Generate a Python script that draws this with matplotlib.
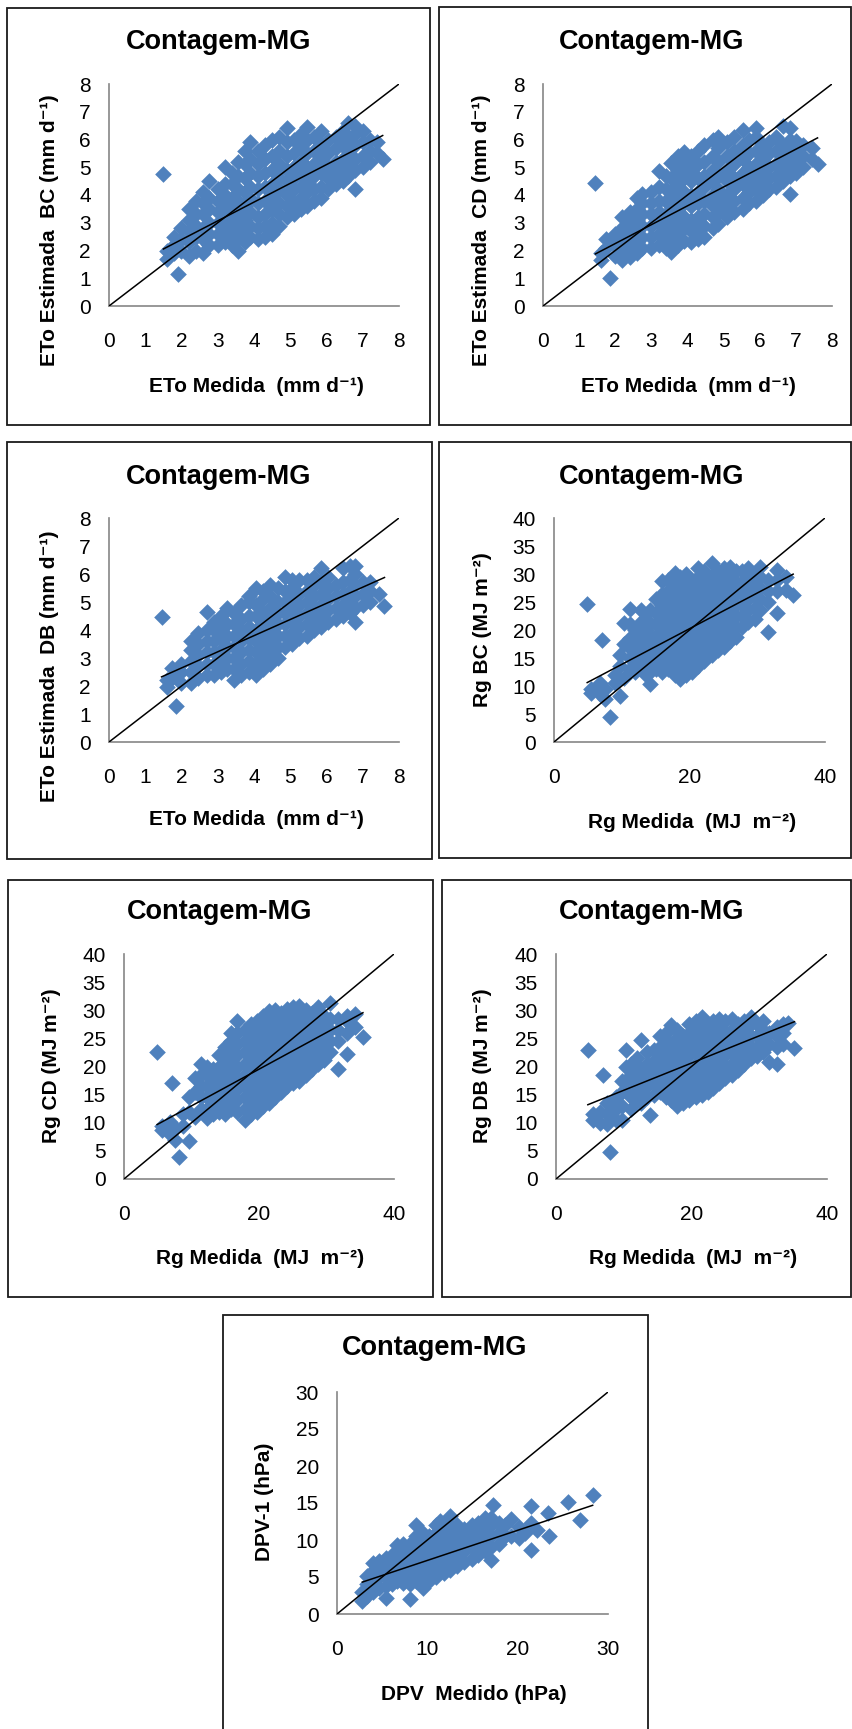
import matplotlib
matplotlib.use("Agg")
import matplotlib.pyplot as plt
from matplotlib.patches import Rectangle
import numpy as np

plt.rcParams['font.family'] = ['Liberation Sans', 'DejaVu Sans']

W, H = 853, 1729
BLUE = '#4F81BD'

# ---- data: one x per column, with the y values read in that column ----
eto_bc_x = [1.5, 1.6, 1.8, 1.9, 2.0, 2.2, 2.4, 2.6, 2.75, 3.0, 3.2, 3.4, 3.55, 3.75,
            3.9, 4.1, 4.3, 4.5, 4.7, 4.9, 5.1, 5.3, 5.45, 5.65, 5.85, 6.05, 6.25,
            6.45, 6.6, 6.8, 7.0, 7.2, 7.4, 7.55]
eto_bc_y = [[4.75], [1.7, 2.0], [2.5, 2.2, 1.9], [1.15], [2.0, 2.4, 2.8],
            [1.8, 2.3, 2.7, 3.1, 3.5], [2.0, 2.5, 2.9, 3.3, 3.8],
            [1.9, 2.4, 2.8, 3.3, 3.7, 4.1], [2.2, 2.6, 3.0, 3.5, 3.9, 4.5],
            [2.2, 2.6, 3.0, 3.4, 3.8, 4.2], [2.3, 2.8, 3.2, 3.6, 4.0, 4.4, 5.0],
            [2.2, 2.6, 3.0, 3.5, 3.9, 4.4, 4.8], [2.0, 2.5, 2.9, 3.3, 3.8, 4.2, 4.7, 5.2],
            [2.3, 2.7, 3.1, 3.6, 4.1, 4.6, 5.1, 5.6], [2.5, 2.9, 3.4, 3.9, 4.3, 4.8, 5.3, 5.9],
            [2.4, 2.8, 3.2, 3.7, 4.2, 4.7, 5.1, 5.6], [2.5, 2.9, 3.3, 3.8, 4.3, 4.8, 5.3, 5.8],
            [2.6, 3.0, 3.5, 4.0, 4.4, 4.9, 5.4, 6.0], [2.9, 3.3, 3.7, 4.2, 4.6, 5.1, 5.6, 6.1],
            [3.2, 3.6, 4.0, 4.5, 4.9, 5.4, 5.9, 6.4], [3.3, 3.7, 4.2, 4.6, 5.0, 5.5, 6.0],
            [3.5, 3.9, 4.3, 4.8, 5.2, 5.7, 6.2], [3.6, 4.1, 4.5, 5.0, 5.5, 6.0, 6.45],
            [3.8, 4.2, 4.7, 5.1, 5.6, 6.1], [3.9, 4.3, 4.8, 5.3, 5.8, 6.3],
            [4.2, 4.6, 5.0, 5.5, 6.0], [4.4, 4.8, 5.2, 5.7, 6.1], [4.5, 4.9, 5.3, 5.8, 6.3],
            [4.7, 5.1, 5.6, 6.0, 6.6], [4.2, 4.9, 5.3, 5.8, 6.2, 6.5], [5.0, 5.4, 5.9, 6.3],
            [5.2, 5.6, 6.0], [5.5, 5.9], [5.3]]

eto_cd_x = [1.45, 1.6, 1.75, 1.85, 2.0, 2.2, 2.4, 2.6, 2.75, 3.0, 3.2, 3.4, 3.55, 3.75,
            3.9, 4.1, 4.3, 4.45, 4.7, 4.85, 5.1, 5.3, 5.55, 5.7, 5.9, 6.1, 6.25,
            6.45, 6.65, 6.85, 7.0, 7.2, 7.45, 7.6]
eto_cd_y = [[4.45], [1.65, 1.9], [2.4, 2.1], [1.0], [1.8, 2.2, 2.6],
            [1.65, 2.0, 2.4, 2.8, 3.2], [1.75, 2.2, 2.6, 3.0, 3.4],
            [1.9, 2.3, 2.7, 3.1, 3.5, 3.9], [2.1, 2.5, 2.9, 3.3, 3.7, 4.05],
            [2.1, 2.5, 2.9, 3.3, 3.7, 4.1], [2.2, 2.6, 3.0, 3.4, 3.8, 4.3, 4.85],
            [2.1, 2.5, 2.9, 3.3, 3.8, 4.2, 4.7], [1.95, 2.4, 2.8, 3.2, 3.6, 4.1, 4.6, 5.15],
            [2.2, 2.6, 3.0, 3.5, 3.9, 4.4, 4.9, 5.4], [2.35, 2.8, 3.2, 3.7, 4.1, 4.6, 5.1, 5.55],
            [2.3, 2.7, 3.1, 3.6, 4.0, 4.5, 4.9, 5.4], [2.4, 2.8, 3.2, 3.7, 4.1, 4.6, 5.1, 5.6],
            [2.5, 2.9, 3.3, 3.8, 4.3, 4.7, 5.2, 5.8], [2.8, 3.2, 3.6, 4.0, 4.5, 4.9, 5.4, 6.0],
            [2.95, 3.4, 3.8, 4.2, 4.7, 5.2, 5.7, 6.1], [3.2, 3.6, 4.0, 4.5, 4.9, 5.4, 5.9],
            [3.4, 3.8, 4.2, 4.6, 5.1, 5.6, 6.1], [3.5, 3.9, 4.4, 4.8, 5.3, 5.8, 6.35],
            [3.7, 4.1, 4.5, 5.0, 5.5, 6.0], [3.8, 4.2, 4.7, 5.1, 5.6, 6.1, 6.4],
            [4.0, 4.4, 4.9, 5.3, 5.8], [4.2, 4.6, 5.0, 5.5, 5.9], [4.3, 4.7, 5.1, 5.6, 6.1],
            [4.5, 4.9, 5.4, 5.8, 6.5], [4.05, 4.7, 5.1, 5.5, 6.0, 6.4], [4.8, 5.3, 5.7, 5.95],
            [5.0, 5.4, 5.8], [5.3, 5.7], [5.1]]

eto_db_x = [1.45, 1.6, 1.75, 1.85, 2.0, 2.25, 2.45, 2.7, 2.9, 3.1, 3.25, 3.45, 3.65,
            3.85, 4.05, 4.25, 4.45, 4.65, 4.85, 5.05, 5.25, 5.45, 5.65, 5.85, 6.05,
            6.25, 6.45, 6.65, 6.8, 7.0, 7.2, 7.45, 7.6]
eto_db_y = [[4.45], [1.95, 2.2], [2.65, 2.3], [1.3], [2.1, 2.5, 2.8],
            [2.1, 2.5, 2.9, 3.3, 3.6], [2.3, 2.7, 3.1, 3.5, 3.9],
            [2.4, 2.8, 3.2, 3.6, 4.0, 4.65], [2.4, 2.8, 3.2, 3.6, 4.0, 4.3],
            [2.5, 2.9, 3.3, 3.7, 4.1, 4.5], [2.6, 3.0, 3.4, 3.8, 4.2, 4.8],
            [2.2, 2.6, 3.0, 3.4, 3.8, 4.2, 4.6], [2.4, 2.8, 3.2, 3.6, 4.0, 4.4, 4.9],
            [2.5, 2.9, 3.3, 3.7, 4.1, 4.5, 5.0, 5.2], [2.4, 2.8, 3.2, 3.6, 4.0, 4.5, 4.9, 5.5],
            [2.6, 3.0, 3.4, 3.8, 4.2, 4.6, 5.1, 5.4], [2.8, 3.2, 3.6, 4.0, 4.4, 4.8, 5.2, 5.6],
            [3.0, 3.4, 3.8, 4.2, 4.6, 5.0, 5.5], [3.4, 3.8, 4.2, 4.6, 5.0, 5.4, 5.9],
            [3.5, 3.9, 4.3, 4.7, 5.1, 5.5, 5.8], [3.7, 4.1, 4.5, 4.9, 5.3, 5.8],
            [3.8, 4.2, 4.6, 5.0, 5.4, 5.8], [4.0, 4.4, 4.8, 5.2, 5.6, 5.9],
            [4.1, 4.5, 4.9, 5.3, 5.7, 6.2], [4.3, 4.7, 5.1, 5.5, 5.9], [4.4, 4.8, 5.2, 5.6],
            [4.5, 4.9, 5.3, 5.7, 6.2], [4.6, 5.0, 5.4, 5.8, 6.3], [4.3, 4.8, 5.2, 5.6, 6.0, 6.3],
            [4.9, 5.3, 5.7], [5.0, 5.4, 5.7], [5.3], [4.85]]

rg_bc_x = [4.9, 5.5, 6.8, 7.1, 7.6, 8.2, 9.0, 9.7, 10.4, 11.2, 12.0, 12.8, 13.6, 14.2,
           15.0, 15.9, 16.8, 17.8, 18.6, 19.5, 20.4, 21.3, 22.2, 23.3, 24.2, 25.1, 26.0,
           26.9, 27.8, 28.7, 29.6, 30.4, 31.6, 32.9, 34.3, 35.3]
rg_bc_y = [[24.7], [8.7, 9.5], [8.5, 10.5], [18.2], [7.6, 9.5], [4.4], [10.5, 12.0],
           [8.2, 13.5, 15.5], [11.5, 17.5, 21.3], [13.0, 15.0, 16.8, 18.5, 21.0, 23.8],
           [12.5, 14.5, 16.5, 18.5, 20.0], [13.5, 15.5, 17.5, 19.5, 21.5, 23.6],
           [12.0, 14.0, 16.0, 18.0, 20.0, 22.0], [10.3, 12.5, 15.0, 17.0, 19.0, 21.0, 23.5],
           [13.0, 15.0, 17.0, 19.0, 21.0, 23.0, 25.5],
           [12.5, 14.5, 16.5, 18.5, 20.5, 22.5, 24.5, 26.5, 28.7],
           [13.0, 15.0, 17.0, 19.0, 21.0, 23.0, 25.0, 27.0, 29.0],
           [12.0, 14.0, 16.0, 18.0, 20.0, 22.0, 24.0, 26.0, 28.0, 30.1],
           [11.3, 13.5, 15.5, 17.5, 19.5, 21.5, 23.5, 25.5, 27.5, 29.5],
           [12.0, 14.0, 16.0, 18.0, 20.0, 22.0, 24.0, 26.0, 28.0, 30.0],
           [12.5, 14.5, 16.5, 18.5, 20.5, 22.5, 24.5, 26.5, 28.5],
           [13.5, 15.5, 17.5, 19.5, 21.5, 23.5, 25.5, 27.5, 29.5, 31.0],
           [14.5, 16.5, 18.5, 20.5, 22.5, 24.5, 26.5, 28.5, 30.5],
           [15.5, 17.5, 19.5, 21.5, 23.5, 25.5, 27.5, 29.5, 31.9],
           [16.5, 18.5, 20.5, 22.5, 24.5, 26.5, 28.5, 30.5],
           [17.0, 19.0, 21.0, 23.0, 25.0, 27.0, 29.0, 31.0],
           [18.0, 20.0, 22.0, 24.0, 26.0, 28.0, 30.0, 31.3],
           [18.8, 20.5, 22.5, 24.5, 26.5, 28.5, 30.5], [20.5, 22.5, 24.5, 26.5, 28.5, 30.5],
           [21.5, 23.5, 25.5, 27.5, 29.5, 31.0], [22.0, 24.0, 26.0, 28.0, 30.0],
           [23.5, 25.5, 27.5, 29.5, 31.3], [19.7, 25.0, 27.0, 29.0], [23.0, 27.0, 29.0, 30.7],
           [27.2, 29.5], [26.3]]

rg_cd_x = [4.9, 5.6, 6.8, 7.1, 7.6, 8.2, 8.8, 9.7, 10.5, 11.4, 12.3, 13.2, 14.1, 15.0,
           15.9, 16.8, 17.9, 18.8, 19.7, 20.6, 21.5, 22.4, 23.3, 24.2, 25.1, 26.0, 26.9,
           27.8, 28.7, 29.6, 30.5, 31.7, 33.0, 34.2, 35.4]
rg_cd_y = [[22.6], [8.7, 9.5], [8.0, 10.2], [17.0], [7.0, 9.0], [3.9], [9.5, 11.5],
           [6.7, 12.0, 14.5], [11.0, 15.5, 18.0], [12.5, 14.5, 16.5, 18.5, 20.5],
           [10.8, 12.5, 14.5, 16.5, 18.5, 20.0], [11.5, 13.5, 15.5, 17.5, 19.5],
           [12.0, 14.0, 16.0, 18.0, 20.0, 22.0], [11.5, 13.5, 15.5, 17.5, 19.5, 21.5, 23.5],
           [12.5, 14.5, 16.5, 18.5, 20.5, 22.5, 24.5, 26.0],
           [12.0, 14.0, 16.0, 18.0, 20.0, 22.0, 24.0, 26.0, 28.1],
           [10.5, 12.5, 14.5, 16.5, 18.5, 20.5, 22.5, 24.5, 26.5],
           [11.5, 13.5, 15.5, 17.5, 19.5, 21.5, 23.5, 25.5, 27.5],
           [12.0, 14.0, 16.0, 18.0, 20.0, 22.0, 24.0, 26.0, 28.0],
           [13.0, 15.0, 17.0, 19.0, 21.0, 23.0, 25.0, 27.0, 29.0],
           [13.5, 15.5, 17.5, 19.5, 21.5, 23.5, 25.5, 27.5, 29.8],
           [14.5, 16.5, 18.5, 20.5, 22.5, 24.5, 26.5, 28.5, 30.0],
           [15.5, 17.5, 19.5, 21.5, 23.5, 25.5, 27.5, 29.5],
           [16.5, 18.5, 20.5, 22.5, 24.5, 26.5, 28.5, 30.2],
           [17.0, 19.0, 21.0, 23.0, 25.0, 27.0, 29.0, 30.5],
           [17.5, 19.5, 21.5, 23.5, 25.5, 27.5, 29.5, 30.7],
           [18.5, 20.5, 22.5, 24.5, 26.5, 28.5, 30.0], [19.5, 21.5, 23.5, 25.5, 27.5, 29.5],
           [20.5, 22.5, 24.5, 26.5, 28.5, 30.5], [21.2, 23.0, 25.0, 27.0, 29.0],
           [22.5, 24.5, 26.5, 28.5, 31.2], [19.5, 24.5, 26.5, 28.5], [22.3, 26.0, 28.0, 29.0],
           [27.0, 29.4], [25.3]]

rg_db_x = [4.7, 5.5, 6.5, 6.9, 7.6, 8.0, 8.8, 9.8, 10.3, 11.0, 11.9, 12.6, 13.5, 13.9,
           14.4, 15.3, 16.2, 17.0, 17.9, 18.8, 19.7, 20.6, 21.5, 22.4, 23.2, 24.1, 25.0,
           26.0, 26.9, 27.8, 28.8, 29.6, 30.5, 31.5, 32.6, 33.5, 34.2, 35.2]
rg_db_y = [[22.9], [10.5, 11.5], [10.0, 12.0], [18.5], [9.8, 11.5, 13.5], [4.8],
           [10.5, 12.5, 14.5], [10.5, 13.0, 15.5, 17.5], [20.0, 22.9],
           [12.5, 14.5, 16.5, 18.5, 20.5], [14.0, 16.0, 18.0, 20.0, 21.5],
           [13.5, 15.5, 17.5, 19.5, 24.7], [14.5, 16.5, 18.5, 20.5, 22.5], [11.3],
           [15.0, 17.0, 19.0, 21.0, 23.0], [15.5, 17.5, 19.5, 21.5, 23.5, 25.5],
           [14.5, 16.5, 18.5, 20.5, 22.5, 24.5, 26.0], [14.0, 16.0, 18.0, 20.0, 22.0, 24.0, 27.3],
           [13.0, 15.0, 17.0, 19.0, 21.0, 23.0, 25.0, 26.5],
           [13.5, 15.5, 17.5, 19.5, 21.5, 23.5, 25.5],
           [14.0, 16.0, 18.0, 20.0, 22.0, 24.0, 26.0, 27.5],
           [14.5, 16.5, 18.5, 20.5, 22.5, 24.5, 26.5, 28.0],
           [15.0, 17.0, 19.0, 21.0, 23.0, 25.0, 27.0, 28.8],
           [15.5, 17.5, 19.5, 21.5, 23.5, 25.5, 27.5],
           [16.1, 18.0, 20.0, 22.0, 24.0, 26.0, 28.0], [17.0, 19.0, 21.0, 23.0, 25.0, 27.0, 28.5],
           [18.0, 20.0, 22.0, 24.0, 26.0, 28.0], [18.5, 20.5, 22.5, 24.5, 26.5, 28.4],
           [19.4, 21.5, 23.5, 25.5, 27.5], [20.5, 22.5, 24.5, 26.5, 28.0],
           [21.5, 23.5, 25.5, 27.5, 28.8], [21.8, 23.5, 25.5, 27.5], [22.5, 24.5, 26.5, 28.0],
           [20.8, 24.0, 26.0], [20.5, 23.5, 25.5, 27.0], [24.0, 26.0, 27.5], [27.8], [23.3]]

dpv_x = [2.8, 3.3, 4.0, 4.7, 5.4, 6.1, 6.6, 7.3, 8.1, 8.8, 9.5, 10.2, 11.0, 11.4, 11.8,
         12.5, 13.3, 14.1, 14.9, 15.6, 16.4, 17.1, 17.3, 17.9, 18.6, 19.3, 20.1, 20.8,
         21.5, 22.1, 23.4, 23.5, 25.6, 26.9, 28.3]
dpv_y = [[1.7, 3.0], [2.4, 4.0, 5.2], [3.0, 4.5, 5.8, 6.9], [3.5, 5.0, 6.3, 7.2],
         [2.2, 3.8, 5.2, 6.5, 7.6], [4.0, 5.5, 6.8, 8.0], [4.5, 6.0, 7.5, 9.3],
         [4.2, 5.5, 7.0, 8.5, 9.5], [2.0, 4.0, 5.3, 6.5, 8.0, 9.5],
         [4.5, 6.0, 7.5, 9.0, 10.5, 12.0], [3.5, 5.0, 6.5, 8.0, 9.5, 11.0],
         [4.5, 6.0, 7.5, 9.0, 10.5], [5.0, 6.5, 8.0, 9.5, 11.0, 12.0], [12.6],
         [5.5, 7.0, 8.5, 10.0, 11.5], [6.0, 7.5, 9.0, 10.5, 12.0, 13.2],
         [6.5, 8.0, 9.5, 11.0, 12.0], [7.0, 8.5, 10.0, 11.5], [7.5, 9.0, 10.5, 12.0],
         [8.0, 9.5, 11.0, 12.3], [8.5, 10.0, 11.5, 13.0], [7.3, 9.0, 10.5, 12.0, 13.0],
         [14.7], [9.5, 11.0, 12.3], [10.5, 12.0], [10.5, 12.9], [10.3, 11.8], [11.0],
         [8.6, 12.3, 14.6], [11.4], [13.6], [10.5], [15.2], [12.7], [16.1]]

# linear trend lines (intercept, slope)
trend_eto_bc = (1.04, 0.676)
trend_eto_cd = (0.89, 0.68)
trend_eto_db = (1.49, 0.577)
trend_rg_bc = (7.49, 0.637)
trend_rg_cd = (6.48, 0.652)
trend_rg_db = (10.93, 0.484)
trend_dpv = (3.17, 0.407)

titles = ['Contagem-MG'] * 7
ylabels = ['ETo Estimada  BC (mm d⁻¹)',
           'ETo Estimada  CD (mm d⁻¹)',
           'ETo Estimada  DB (mm d⁻¹)',
           'Rg BC (MJ m⁻²)',
           'Rg CD (MJ m⁻²)',
           'Rg DB (MJ m⁻²)',
           'DPV-1 (hPa)']
xlabels = ['ETo Medida  (mm d⁻¹)'] * 3 + ['Rg Medida  (MJ  m⁻²)'] * 3 + ['DPV  Medido (hPa)']

eto_ticks = [0, 1, 2, 3, 4, 5, 6, 7, 8]
rg_xticks = [0, 20, 40]
rg_yticks = [0, 5, 10, 15, 20, 25, 30, 35, 40]
dpv_xticks = [0, 10, 20, 30]
dpv_yticks = [0, 5, 10, 15, 20, 25, 30]

panels = [
    (eto_bc_x, eto_bc_y, trend_eto_bc, 8, eto_ticks, eto_ticks),
    (eto_cd_x, eto_cd_y, trend_eto_cd, 8, eto_ticks, eto_ticks),
    (eto_db_x, eto_db_y, trend_eto_db, 8, eto_ticks, eto_ticks),
    (rg_bc_x, rg_bc_y, trend_rg_bc, 40, rg_xticks, rg_yticks),
    (rg_cd_x, rg_cd_y, trend_rg_cd, 40, rg_xticks, rg_yticks),
    (rg_db_x, rg_db_y, trend_rg_db, 40, rg_xticks, rg_yticks),
    (dpv_x, dpv_y, trend_dpv, 30, dpv_xticks, dpv_yticks),
]

# layout in pixels: frame box, plot area, title centre, y label centre, x label centre
boxes = [(7, 8, 430, 425), (439, 7, 851, 425), (7, 442, 432, 859), (439, 442, 851, 858),
         (8, 880, 433, 1297), (442, 880, 851, 1297), (223, 1315, 648, 1740)]
plot_areas = [(109, 84, 399, 306), (543, 84, 832, 306), (109, 518, 399, 742),
              (554, 518, 825, 742), (124, 954, 394, 1179), (556, 954, 827, 1179),
              (337, 1392, 608, 1614)]
title_pos = [(219, 42), (652, 42), (219, 477), (652, 477), (220, 912), (652, 912), (435, 1348)]
ylab_pos = [(50, 230), (482, 230), (50, 666), (483, 630), (52, 1066), (483, 1066), (265, 1502)]
xlab_pos = [(256, 387), (688, 387), (256, 820), (692, 822), (260, 1258), (693, 1258), (474, 1695)]


def fx(px):
    return px / W


def fy(py):
    return 1 - py / H


fig = plt.figure(figsize=(W / 100, H / 100), dpi=100)

for i, (xs, ys, trend, vmax, xt, yt) in enumerate(panels):
    bx0, by0, bx1, by1 = boxes[i]
    fig.add_artist(Rectangle((fx(bx0), fy(by1)), fx(bx1 - bx0), (by1 - by0) / H,
                             transform=fig.transFigure, fill=False,
                             edgecolor='#1a1a1a', linewidth=1.3))

    l, t, r, b = plot_areas[i]
    ax = fig.add_axes([fx(l), fy(b), fx(r - l), (b - t) / H])

    px = np.concatenate([[x] * len(col) for x, col in zip(xs, ys)])
    py = np.concatenate(ys)
    ax.scatter(px, py, marker='D', s=72, color=BLUE, linewidths=0, zorder=2)

    # 1:1 line and fitted linear trend
    ax.plot([0, vmax], [0, vmax], color='black', lw=1.1, zorder=3)
    a, k = trend
    xr = np.array([px.min(), px.max()])
    ax.plot(xr, a + k * xr, color='black', lw=1.1, zorder=3)

    ax.set_xlim(0, vmax)
    ax.set_ylim(0, vmax)
    ax.set_xticks(xt)
    ax.set_yticks(yt)
    ax.tick_params(axis='both', length=0, labelsize=15)
    ax.tick_params(axis='x', pad=19)
    ax.tick_params(axis='y', pad=13)
    for side in ('top', 'right'):
        ax.spines[side].set_visible(False)
    for side in ('left', 'bottom'):
        ax.spines[side].set_color('#868686')
        ax.spines[side].set_linewidth(1.2)
    ax.patch.set_alpha(0)

    tx, ty = title_pos[i]
    fig.text(fx(tx), fy(ty), titles[i], ha='center', va='center',
             fontsize=19.5, fontweight='bold')
    yx, yy = ylab_pos[i]
    fig.text(fx(yx), fy(yy), ylabels[i], ha='center', va='center', rotation=90,
             fontsize=15, fontweight='bold')
    xx, xy = xlab_pos[i]
    fig.text(fx(xx), fy(xy), xlabels[i], ha='center', va='center',
             fontsize=15, fontweight='bold')

fig.savefig('out.png', dpi=100)
